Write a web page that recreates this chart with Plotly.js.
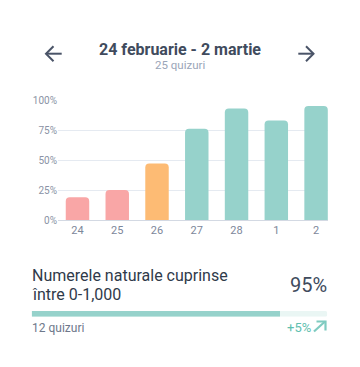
<!DOCTYPE html>
<html>
<head>
<meta charset="utf-8">
<script src="https://cdn.plot.ly/plotly-3.0.1.min.js"></script>
<style>
html,body{margin:0;padding:0;background:#fff;}
#chart{width:360px;height:367px;}
</style>
</head>
<body>
<div id="chart"></div>
<script>
// ---- data ----
const days = ["24", "25", "26", "27", "28", "1", "2"];
const scores = [19, 25, 47, 76, 93, 83, 95];
const yTicks = [0, 25, 50, 75, 100];
const periodTitle = "24 februarie - 2 martie";
const periodSubtitle = "25 quizuri";
const topicLine1 = "Numerele naturale cuprinse";
const topicLine2 = "între 0-1,000";
const topicScore = ["95%"];
const topicProgress = [84];
const topicQuizzes = "12 quizuri";
const topicChange = "+5%";

// ---- helpers ----
const W = 360, H = 367;
const px = x => x / W;
const py = y => 1 - y / H;
function colorFor(v) {
  if (v < 30) return "#F9A6A6";
  if (v < 50) return "#FDBB74";
  return "#96D2CB";
}

const barTrace = {
  type: "bar",
  x: days,
  y: scores,
  xaxis: "x",
  yaxis: "y",
  marker: { color: scores.map(colorFor), cornerradius: 4 },
  hoverinfo: "none"
};
const progBg = {
  type: "bar",
  orientation: "h",
  x: [100],
  y: [0],
  xaxis: "x2",
  yaxis: "y2",
  width: 1,
  marker: { color: "#EAF6F4", cornerradius: 3 },
  hoverinfo: "none"
};
const progFill = {
  type: "bar",
  orientation: "h",
  x: topicProgress,
  y: [0],
  xaxis: "x2",
  yaxis: "y2",
  width: 1,
  marker: { color: "#96D2CB", cornerradius: 3 },
  hoverinfo: "none"
};

const tickFont = { family: "Roboto, sans-serif", size: 10, color: "#8A93A5" };

const arrowColor = "#4A5468";
const shapes = [
  // left arrow
  { type: "path", xref: "paper", yref: "paper",
    path: `M ${px(46)} ${py(53.7)} L ${px(61.7)} ${py(53.7)}`,
    line: { color: arrowColor, width: 2 } },
  { type: "path", xref: "paper", yref: "paper",
    path: `M ${px(53.5)} ${py(46.2)} L ${px(46)} ${py(53.7)} L ${px(53.5)} ${py(61.2)}`,
    line: { color: arrowColor, width: 2 } },
  // right arrow
  { type: "path", xref: "paper", yref: "paper",
    path: `M ${px(298.3)} ${py(53.7)} L ${px(313.5)} ${py(53.7)}`,
    line: { color: arrowColor, width: 2 } },
  { type: "path", xref: "paper", yref: "paper",
    path: `M ${px(306)} ${py(46.2)} L ${px(313.5)} ${py(53.7)} L ${px(306)} ${py(61.2)}`,
    line: { color: arrowColor, width: 2 } },
  // up-right arrow
  { type: "path", xref: "paper", yref: "paper",
    path: `M ${px(314)} ${py(331.5)} L ${px(325)} ${py(321.5)}`,
    line: { color: "#7FCBC0", width: 2.2 } },
  { type: "path", xref: "paper", yref: "paper",
    path: `M ${px(316.5)} ${py(321.5)} L ${px(325.5)} ${py(321.5)} L ${px(325.5)} ${py(330.5)}`,
    line: { color: "#7FCBC0", width: 2.2 } }
];

const annotations = [
  { text: "<b>" + periodTitle + "</b>", xref: "paper", yref: "paper",
    x: px(180), y: py(49.5), xanchor: "center", yanchor: "middle", showarrow: false,
    borderpad: 0,
    font: { family: "Roboto, sans-serif", size: 16, color: "#404B5D" } },
  { text: periodSubtitle, xref: "paper", yref: "paper",
    x: px(180), y: py(65.2), xanchor: "center", yanchor: "middle", showarrow: false,
    borderpad: 0,
    font: { family: "Roboto, sans-serif", size: 11.5, color: "#9AA5B8" } },
  { text: topicLine1, xref: "paper", yref: "paper",
    x: px(31), y: py(275.7), xanchor: "left", yanchor: "middle", showarrow: false,
    borderpad: 0,
    font: { family: "Roboto, sans-serif", size: 16, color: "#2F3A4A" } },
  { text: topicLine2, xref: "paper", yref: "paper",
    x: px(31), y: py(294), xanchor: "left", yanchor: "middle", showarrow: false,
    borderpad: 0,
    font: { family: "Roboto, sans-serif", size: 16, color: "#2F3A4A" } },
  { text: topicScore[0], xref: "paper", yref: "paper",
    x: px(328), y: py(285), xanchor: "right", yanchor: "middle", showarrow: false,
    borderpad: 0,
    font: { family: "Roboto, sans-serif", size: 20, color: "#404B5D" } },
  { text: topicQuizzes, xref: "paper", yref: "paper",
    x: px(31), y: py(327.5), xanchor: "left", yanchor: "middle", showarrow: false,
    borderpad: 0,
    font: { family: "Roboto, sans-serif", size: 12, color: "#6E788B" } },
  { text: topicChange, xref: "paper", yref: "paper",
    x: px(311.5), y: py(327.5), xanchor: "right", yanchor: "middle", showarrow: false,
    borderpad: 0,
    font: { family: "Roboto, sans-serif", size: 13, color: "#5FBFB0" } }
];

const layout = {
  width: W, height: H,
  margin: { l: 0, r: 0, t: 0, b: 0 },
  paper_bgcolor: "#ffffff",
  plot_bgcolor: "#ffffff",
  showlegend: false,
  barmode: "overlay",
  bargap: 0.41,
  xaxis: {
    domain: [px(58), px(328)],
    type: "category",
    range: [-0.49, 6.3],
    showgrid: false,
    showline: true, linecolor: "#D3D9E3", linewidth: 1,
    ticks: "", tickfont: { family: "Roboto, sans-serif", size: 11, color: "#7D879A" },
    fixedrange: true, anchor: "y"
  },
  yaxis: {
    domain: [py(220), py(100)],
    range: [0, 100],
    tickvals: yTicks,
    ticktext: yTicks.map(v => v + "%"),
    showgrid: true, gridcolor: "#E5EAF1", gridwidth: 1,
    zeroline: false, showline: false,
    ticks: "", tickfont: tickFont,
    fixedrange: true, anchor: "x"
  },
  xaxis2: {
    domain: [px(31.7), px(327.3)],
    range: [0, 100],
    visible: false, anchor: "y2", fixedrange: true
  },
  yaxis2: {
    domain: [py(316.8), py(311)],
    range: [-0.5, 0.5],
    visible: false, anchor: "x2", fixedrange: true
  },
  shapes: shapes,
  annotations: annotations
};

Plotly.newPlot("chart", [barTrace, progBg, progFill], layout, { staticPlot: true, displayModeBar: false });
</script>
</body>
</html>
